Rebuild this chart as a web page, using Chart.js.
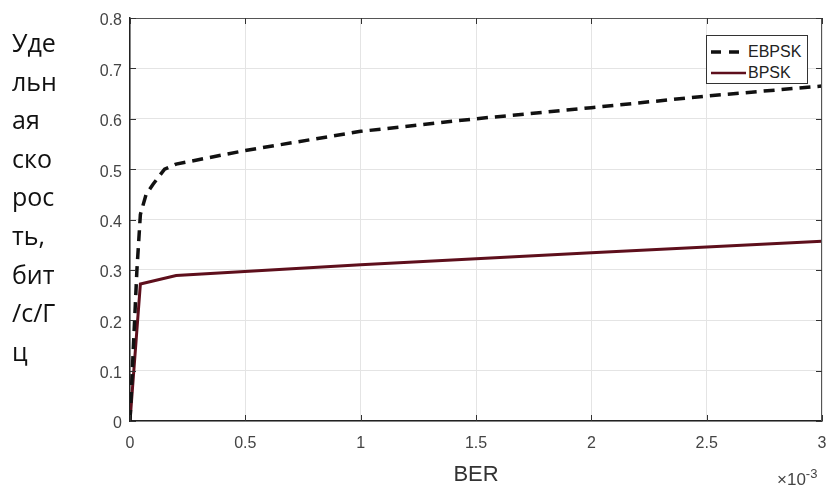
<!DOCTYPE html>
<html>
<head>
<meta charset="utf-8">
<script src="https://cdn.jsdelivr.net/npm/chart.js@4"></script>
<style>
  html, body { margin: 0; padding: 0; background: #fff; }
  #wrap { position: relative; width: 832px; height: 486px; }
  #ylab { position: absolute; left: 12px; top: 23px; font-family: "Open Sans", sans-serif; font-size: 25px; line-height: 38.6px; color: #111; }
  #exp { position: absolute; left: 777px; top: 464px; font-family: "Liberation Sans", Arial, sans-serif; font-size: 17px; line-height: 19px; color: #444; }
  #exp sup { font-size: 13px; }
  #legend { position: absolute; left: 706px; top: 35px; width: 100px; height: 47px; border: 1px solid #333; background: #fff;
            font-family: "Liberation Sans", Arial, sans-serif; font-size: 16px; color: #222; }
  .row { position: absolute; left: 3px; height: 20px; line-height: 20px; width: 96px; }
  .row svg { position: absolute; left: 0; top: 0; }
  .row span { position: absolute; left: 38px; top: 0; }
</style>
</head>
<body>
<div id="wrap">
  <canvas id="chart" width="832" height="486"></canvas>
  <div id="ylab">Уде<br>льн<br>ая<br>ско<br>рос<br>ть,<br>бит<br>/с/Г<br>ц</div>
  <div id="exp">×10<sup>-3</sup></div>
  <div id="legend"></div>
</div>
<script>
// BER in units of 1e-3
const ebpskBer = [0, 0.03, 0.045, 0.07, 0.1, 0.15, 0.2, 0.5, 1, 1.5, 2, 2.5, 3];
const ebpskRate = [0, 0.3, 0.41, 0.45, 0.47, 0.5, 0.51, 0.537, 0.575, 0.6, 0.622, 0.645, 0.665];
const bpskBer = [0, 0.045, 0.2, 1, 2, 3];
const bpskRate = [0, 0.272, 0.289, 0.31, 0.334, 0.357];
const seriesNames = ['EBPSK', 'BPSK'];
const xTicks = ['0', '0.5', '1', '1.5', '2', '2.5', '3'];
const yTicks = ['0', '0.1', '0.2', '0.3', '0.4', '0.5', '0.6', '0.7', '0.8'];

const colors = ['#111111', '#5e0f1c'];
const dashes = [[11, 7], []];

const toPoints = (xs, ys) => xs.map((x, i) => ({ x: x, y: ys[i] }));

const frame = {
  id: 'frame',
  afterDraw(chart) {
    const { ctx, chartArea: a } = chart;
    ctx.save();
    ctx.strokeStyle = '#555';
    ctx.lineWidth = 1;
    ctx.beginPath();
    ctx.moveTo(a.left, a.top + 0.5);
    ctx.lineTo(a.right - 0.5, a.top + 0.5);
    ctx.lineTo(a.right - 0.5, a.bottom);
    ctx.stroke();
    // inward ticks
    ctx.strokeStyle = '#333';
    const xs = chart.scales.x, ys = chart.scales.y;
    xs.ticks.forEach(t => {
      const px = Math.round(xs.getPixelForValue(t.value)) + 0.5;
      ctx.beginPath();
      ctx.moveTo(px, a.bottom); ctx.lineTo(px, a.bottom - 6);
      ctx.moveTo(px, a.top); ctx.lineTo(px, a.top + 6);
      ctx.stroke();
    });
    ys.ticks.forEach(t => {
      const py = Math.round(ys.getPixelForValue(t.value)) + 0.5;
      ctx.beginPath();
      ctx.moveTo(a.left, py); ctx.lineTo(a.left + 6, py);
      ctx.moveTo(a.right, py); ctx.lineTo(a.right - 6, py);
      ctx.stroke();
    });
    ctx.restore();
  }
};

const chart = new Chart(document.getElementById('chart'), {
  type: 'line',
  data: {
    datasets: [
      { label: seriesNames[0], data: toPoints(ebpskBer, ebpskRate), borderColor: colors[0], borderWidth: 3.5, borderDash: dashes[0], pointRadius: 0, tension: 0 },
      { label: seriesNames[1], data: toPoints(bpskBer, bpskRate), borderColor: colors[1], borderWidth: 3, pointRadius: 0, tension: 0 }
    ]
  },
  options: {
    responsive: false,
    animation: false,
    layout: { padding: { left: 0, top: 18, right: 10, bottom: 0 } },
    plugins: { legend: { display: false }, tooltip: { enabled: false } },
    scales: {
      x: {
        type: 'linear', min: 0, max: 3,
        ticks: { stepSize: 0.5, color: '#444', font: { family: 'Liberation Sans', size: 16 }, padding: 5,
                 callback: (v, i) => xTicks[i] },
        grid: { color: '#e4e4e4', drawTicks: true, tickLength: 8, tickColor: 'rgba(0,0,0,0)' },
        border: { color: '#222', width: 1.5 },
        title: { display: true, text: 'BER', color: '#333', font: { family: 'Liberation Sans', size: 22, lineHeight: 1 }, padding: { top: 0, bottom: 0 } },
        afterFit: s => { s.height = 65; }
      },
      y: {
        min: 0, max: 0.8,
        ticks: { stepSize: 0.1, color: '#444', font: { family: 'Liberation Sans', size: 16 }, padding: 8, labelOffset: 3,
                 callback: (v, i) => yTicks[i] },
        grid: { color: '#e4e4e4', drawTicks: false },
        border: { color: '#222', width: 1.5 },
        afterFit: s => { s.width = 130; }
      }
    }
  },
  plugins: [frame]
});

// legend built from the datasets
const leg = document.getElementById('legend');
seriesNames.forEach((name, i) => {
  const row = document.createElement('div');
  row.className = 'row';
  row.style.top = (6 + i * 21) + 'px';
  const dash = dashes[i].length ? ' stroke-dasharray="10 8"' : '';
  row.innerHTML = '<svg width="36" height="20"><line x1="1" y1="10" x2="36" y2="10" stroke="' + colors[i] +
    '" stroke-width="' + (i === 0 ? 3.5 : 2.5) + '"' + dash + '/></svg>';
  const t = document.createElement('span');
  t.textContent = name;
  row.appendChild(t);
  leg.appendChild(row);
});
</script>
</body>
</html>
